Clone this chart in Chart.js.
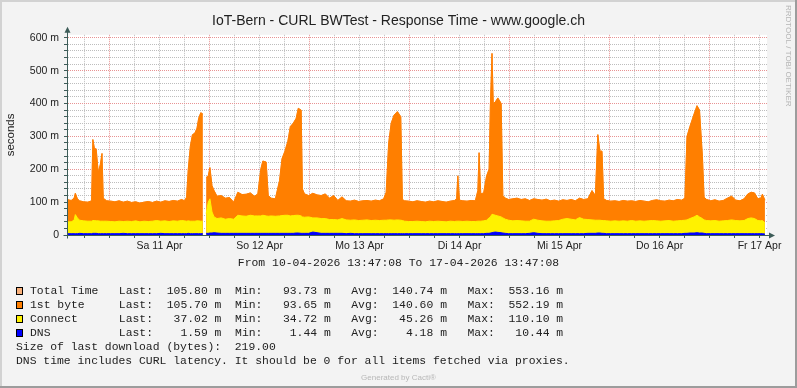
<!DOCTYPE html>
<html>
<head>
<meta charset="utf-8">
<script src="https://cdn.jsdelivr.net/npm/chart.js@4.4.1/dist/chart.umd.min.js"></script>
<style>
  html, body { margin: 0; padding: 0; background: #f3f3f3; }
  canvas { display: block; }
</style>
</head>
<body>
<canvas id="chart" width="797" height="388"></canvas>
<script>
/* global Chart */

const TITLE = 'IoT-Bern - CURL BWTest - Response Time - www.google.ch';
const Y_TITLE = 'seconds';
const PERIOD = 'From 10-04-2026 13:47:08 To 17-04-2026 13:47:08';
const dayLabels = ['Sa 11 Apr', 'So 12 Apr', 'Mo 13 Apr', 'Di 14 Apr', 'Mi 15 Apr', 'Do 16 Apr', 'Fr 17 Apr'];

// sample times, hours after 10-04-2026 13:47:08
const hours = [
  0, 1, 1.7, 2, 2.5, 3, 4, 5, 5.9, 6.2,
  6.6, 7, 7.5, 8, 8.4, 8.7, 9.5, 10.5, 11.5, 12.5,
  13.5, 14.5, 15.5, 16.5, 17.5, 18.5, 19.5, 20.5, 21.5, 22.5,
  23.5, 24.5, 25.5, 26.5, 27.5, 28.2, 28.7, 29.1, 29.6, 30.1,
  30.7, 31.2, 31.6, 32.1, 32.6, 33, 33.4, 33.9, 34.3, 34.8,
  35.3, 36, 37, 38, 39, 40, 41, 42, 43, 44,
  45, 45.8, 46.5, 47, 47.8, 48.3, 49, 50, 51, 51.6,
  52.3, 53, 53.6, 54.3, 55, 55.5, 56.2, 56.5, 57, 58,
  59, 60, 61, 62, 63, 64, 65, 66, 67, 68,
  69, 70, 71, 72, 73, 74, 75, 76, 76.6, 77.2,
  77.8, 78.5, 79.3, 80.1, 80.5, 81, 82, 83, 84, 85,
  86, 87, 88, 89, 90, 91, 92, 93, 93.5, 93.8,
  94.2, 95, 96, 97, 98, 98.6, 98.9, 99.3, 100, 100.7,
  101.3, 101.6, 102, 102.3, 102.8, 103.4, 104.2, 104.6, 105.2, 106,
  107, 108, 109, 110, 111, 112, 113, 114, 115, 116,
  117, 118, 119, 120, 121, 122, 123, 124, 125, 126,
  126.8, 127.4, 127.9, 128.4, 128.8, 129.5, 130.5, 131.5, 132.5, 133.5,
  134.5, 135.5, 136.5, 137.5, 138.5, 139.5, 140.5, 141.5, 142.5, 143.5,
  144.5, 145.5, 146.5, 147.5, 148.3, 148.8, 149.5, 150.5, 151.2, 151.8,
  152.5, 152.9, 153.5, 154.5, 155.5, 156.5, 157.5, 158.5, 159.5, 160.5,
  161.5, 162.5, 163.4, 164.2, 165, 165.8, 166.5, 166.9, 167.5
];

// milliseconds
const totalTime = [
  108, 105, 112, 127, 110, 104, 101, 100, 104, 291,
  262, 262, 190, 215, 248, 112, 104, 103, 101, 104,
  100, 103, 99, 101, 97, 100, 102, 99, 103, 100,
  104, 102, 105, 103, 108, 104, 115, 200, 270, 305,
  310, 325, 355, 372, 368, null, 175, 180, 205, 150,
  135, 118, 120, 112, 114, 100, 130, 123, 124, 128,
  118, 125, 200, 225, 222, 120, 112, 110, 165, 232,
  255, 285, 330, 340, 355, 386, 380, 140, 125, 120,
  127, 122, 120, 125, 112, 120, 105, 116, 104, 103,
  106, 102, 104, 105, 103, 106, 104, 110, 130, 280,
  340, 365, 376, 360, 108, 104, 103, 101, 104, 102,
  100, 103, 101, 104, 102, 100, 103, 105, 110, 180,
  106, 104, 103, 105, 104, 135, 251, 125, 128, 180,
  200, 390, 553, 400, 405, 417, 400, 120, 112, 108,
  110, 112, 108, 110, 105, 110, 108, 106, 109, 104,
  106, 103, 107, 105, 108, 104, 112, 108, 110, 135,
  120, 306, 255, 255, 110, 105, 103, 104, 102, 105,
  103, 104, 102, 105, 103, 101, 105, 107, 104, 103,
  106, 104, 108, 106, 112, 300, 330, 368, 394, 380,
  240, 115, 108, 104, 107, 103, 105, 112, 118, 106,
  104, 110, 125, 130, 128, 110, 112, 124, 106
];

const firstByte = [
  108, 105, 112, 127, 110, 104, 101, 100, 104, 290,
  262, 262, 190, 215, 248, 112, 104, 103, 101, 104,
  100, 103, 99, 101, 97, 100, 102, 99, 103, 100,
  104, 102, 105, 103, 108, 104, 115, 200, 270, 305,
  310, 325, 355, 372, 368, null, 175, 180, 205, 150,
  135, 118, 120, 112, 114, 100, 130, 123, 124, 128,
  118, 125, 200, 225, 222, 120, 112, 110, 165, 232,
  255, 285, 330, 340, 355, 385, 380, 140, 125, 120,
  127, 122, 120, 125, 112, 120, 105, 116, 104, 103,
  106, 102, 104, 105, 103, 106, 104, 110, 130, 280,
  340, 365, 375, 360, 108, 104, 103, 101, 104, 102,
  100, 103, 101, 104, 102, 100, 103, 105, 110, 180,
  106, 104, 103, 105, 104, 135, 250, 125, 128, 180,
  200, 390, 552, 400, 405, 417, 400, 120, 112, 108,
  110, 112, 108, 110, 105, 110, 108, 106, 109, 104,
  106, 103, 107, 105, 108, 104, 112, 108, 110, 135,
  120, 305, 255, 255, 110, 105, 103, 104, 102, 105,
  103, 104, 102, 105, 103, 101, 105, 107, 104, 103,
  106, 104, 108, 106, 112, 300, 330, 368, 393, 380,
  240, 115, 108, 104, 107, 103, 105, 112, 118, 106,
  104, 110, 125, 130, 128, 110, 112, 124, 106
];

const connectTime = [
  40, 40, 45, 62, 52, 45, 43, 42, 42, 44,
  44, 43, 43, 42, 42, 42, 42, 41, 40, 42,
  41, 42, 41, 43, 40, 42, 41, 42, 44, 42,
  43, 41, 43, 42, 44, 43, 42, 43, 42, 42,
  42, 43, 43, 42, 42, null, 65, 100, 110, 70,
  55, 50, 52, 48, 50, 48, 60, 58, 57, 60,
  58, 58, 58, 60, 58, 57, 58, 57, 58, 59,
  60, 60, 58, 59, 60, 60, 58, 55, 54, 55,
  52, 52, 50, 50, 47, 47, 46, 50, 46, 45,
  46, 44, 45, 46, 44, 45, 44, 45, 45, 46,
  46, 45, 46, 45, 44, 42, 41, 41, 42, 41,
  40, 42, 41, 42, 41, 40, 42, 41, 42, 42,
  42, 41, 42, 41, 41, 42, 42, 42, 43, 45,
  52, 55, 63, 62, 60, 58, 55, 52, 48, 45,
  43, 44, 43, 42, 42, 48, 45, 43, 42, 42,
  43, 44, 48, 50, 48, 46, 53, 48, 47, 46,
  45, 45, 45, 44, 44, 43, 42, 43, 42, 43,
  42, 44, 42, 43, 42, 43, 44, 43, 42, 43,
  44, 42, 43, 44, 45, 46, 50, 55, 60, 55,
  50, 46, 44, 43, 44, 42, 43, 44, 46, 44,
  43, 44, 50, 52, 50, 44, 43, 44, 37
];

const dnsTime = [
  4, 4, 4, 4, 4, 5, 4, 4, 4, 5,
  5, 5, 4, 4, 4, 4, 4, 4, 4, 4,
  5, 4, 4, 4, 4, 4, 4, 4, 4, 5,
  4, 4, 4, 4, 4, 4, 4, 5, 4, 4,
  4, 4, 4, 4, 4, null, 5, 5, 6, 6,
  7, 6, 5, 5, 5, 5, 5, 5, 5, 5,
  5, 5, 5, 5, 5, 5, 5, 5, 5, 5,
  5, 5, 5, 5, 6, 6, 5, 5, 5, 5,
  9, 7, 5, 5, 5, 5, 5, 5, 4, 5,
  4, 4, 4, 4, 4, 4, 4, 4, 4, 4,
  4, 4, 4, 4, 4, 4, 4, 4, 4, 4,
  4, 4, 4, 4, 4, 4, 4, 4, 4, 4,
  4, 4, 4, 4, 4, 4, 4, 4, 4, 5,
  5, 6, 7, 8, 9, 8, 7, 6, 5, 4,
  4, 4, 4, 4, 5, 7, 5, 4, 4, 4,
  4, 4, 4, 4, 4, 4, 4, 4, 5, 5,
  5, 6, 6, 5, 5, 4, 4, 4, 4, 4,
  4, 4, 4, 4, 4, 4, 4, 4, 4, 4,
  4, 4, 4, 4, 5, 5, 6, 6, 7, 6,
  6, 5, 4, 4, 4, 4, 4, 4, 4, 4,
  4, 4, 4, 4, 4, 4, 4, 4, 3
];

// legend table
const seriesNames = ['Total Time', '1st byte', 'Connect', 'DNS'];
const lastVals = ['105.80', '105.70', '37.02', '1.59'];
const minVals = ['93.73', '93.65', '34.72', '1.44'];
const avgVals = ['140.74', '140.60', '45.26', '4.18'];
const maxVals = ['553.16', '552.19', '110.10', '10.44'];
const SIZE_NOTE = 'Size of last download (bytes):  219.00';
const DNS_NOTE = 'DNS time includes CURL latency. It should be 0 for all items fetched via proxies.';
const WATERMARK = 'RRDTOOL / TOBI OETIKER';
const FOOTER = 'Generated by Cacti\u00AE';

const COLORS = ['#F9B07A', '#FF7F00', '#FFF200', '#0000FF'];
const TEXT = '#222222';
const AXIS = '#3d5c58';
const GRID = '#bdbdbd';
const MGRID = '#e89393';
const SANS = 'Liberation Sans, Arial, sans-serif';
const MONO = '"Liberation Mono", "Courier New", monospace';

// 13:47:08 -> next midnight
const TO_MIDNIGHT = 10 + 12 / 60 + 52 / 3600;
const gridHours = [];
for (let h = TO_MIDNIGHT - 6; h <= 168; h += 6) gridHours.push(h);
const yGrid = [];
for (let v = 0; v <= 600; v += 20) yGrid.push(v);

function dayPos(v) { return (v - TO_MIDNIGHT) / 24; }
function isMidnight(v) { const k = dayPos(v); return Math.abs(k - Math.round(k)) < 1e-6; }
function dayLabelFor(v) {
  const k = dayPos(v);
  const f = Math.floor(k);
  return Math.abs(k - f - 0.5) < 1e-6 ? (dayLabels[f] || '') : '';
}

function toPoints(arr) { return arr.map((v, i) => ({ x: hours[i], y: v })); }

function area(label, arr, color) {
  return {
    label,
    data: toPoints(arr),
    yAxisID: 'y',
    fill: 'origin',
    backgroundColor: color,
    borderColor: color,
    borderWidth: 1,
    pointRadius: 0,
    tension: 0,
    spanGaps: false
  };
}

function legendLine(i) {
  return seriesNames[i].padEnd(13) +
    'Last:' + lastVals[i].padStart(8) + ' m  ' +
    'Min:' + minVals[i].padStart(8) + ' m   ' +
    'Avg:' + avgVals[i].padStart(8) + ' m   ' +
    'Max:' + maxVals[i].padStart(8) + ' m';
}

const backgroundPlugin = {
  id: 'rrdBackground',
  beforeDraw(chart) {
    const ctx = chart.ctx;
    const a = chart.chartArea;
    ctx.save();
    ctx.fillStyle = '#f3f3f3';
    ctx.fillRect(0, 0, chart.width, chart.height);
    ctx.fillStyle = '#ffffff';
    ctx.fillRect(a.left, a.top, a.right - a.left, a.bottom - a.top);
    ctx.restore();
  }
};

const decorPlugin = {
  id: 'rrdDecor',
  afterDraw(chart) {
    const ctx = chart.ctx;
    const a = chart.chartArea;
    const W = chart.width, H = chart.height;
    ctx.save();

    // axis extensions and arrows
    const ax = Math.round(a.left) + 0.5;
    const ay = Math.round(a.bottom) + 0.5;
    ctx.strokeStyle = AXIS;
    ctx.fillStyle = AXIS;
    ctx.lineWidth = 1;
    ctx.beginPath();
    ctx.moveTo(ax, ay + 3); ctx.lineTo(ax, a.top - 4);
    ctx.moveTo(ax - 4, ay); ctx.lineTo(a.right + 3, ay);
    ctx.stroke();
    ctx.beginPath();
    ctx.moveTo(ax, a.top - 8); ctx.lineTo(ax - 3, a.top - 2); ctx.lineTo(ax + 3, a.top - 2);
    ctx.closePath(); ctx.fill();
    ctx.beginPath();
    ctx.moveTo(a.right + 8, ay); ctx.lineTo(a.right + 2, ay - 3); ctx.lineTo(a.right + 2, ay + 3);
    ctx.closePath(); ctx.fill();

    // watermark
    ctx.save();
    ctx.translate(788.5, 5);
    ctx.rotate(Math.PI / 2);
    ctx.font = '8px ' + SANS;
    ctx.fillStyle = '#b5b5b5';
    ctx.textAlign = 'left';
    ctx.textBaseline = 'middle';
    ctx.fillText(WATERMARK, 0, 0);
    ctx.restore();

    // legend
    ctx.font = '11.4px ' + MONO;
    ctx.fillStyle = TEXT;
    ctx.textBaseline = 'middle';
    ctx.textAlign = 'center';
    ctx.fillText(PERIOD, W / 2, 263);
    ctx.textAlign = 'left';
    const rows = [291, 305, 319, 333];
    rows.forEach((cy, i) => {
      ctx.fillStyle = COLORS[i];
      ctx.fillRect(16, cy - 4, 7, 8);
      ctx.strokeStyle = '#000000';
      ctx.strokeRect(16.5, cy - 3.5, 6, 7);
      ctx.fillStyle = TEXT;
      ctx.fillText(legendLine(i), 30, cy);
    });
    ctx.fillText(SIZE_NOTE, 16, 347);
    ctx.fillText(DNS_NOTE, 16, 361);

    // footer
    ctx.font = '8px ' + SANS;
    ctx.fillStyle = '#b8b8b8';
    ctx.textAlign = 'center';
    ctx.fillText(FOOTER, W / 2, 377.5);

    // frame
    ctx.lineWidth = 2;
    ctx.strokeStyle = '#d2d2d2';
    ctx.beginPath();
    ctx.moveTo(1, H); ctx.lineTo(1, 1); ctx.lineTo(W, 1);
    ctx.stroke();
    ctx.strokeStyle = '#9c9c9c';
    ctx.beginPath();
    ctx.moveTo(W - 1, 0); ctx.lineTo(W - 1, H - 1); ctx.lineTo(0, H - 1);
    ctx.stroke();
    ctx.restore();
  }
};

new Chart(document.getElementById('chart').getContext('2d'), {
  type: 'line',
  data: {
    datasets: [
      area('DNS', dnsTime, COLORS[3]),
      area('Connect', connectTime, COLORS[2]),
      area('1st byte', firstByte, COLORS[1]),
      area('Total Time', totalTime, COLORS[0])
    ]
  },
  options: {
    responsive: false,
    animation: false,
    devicePixelRatio: 1,
    layout: { padding: 0 },
    scales: {
      x: {
        type: 'linear',
        min: 0,
        max: 168,
        afterBuildTicks: (s) => { s.ticks = gridHours.map(v => ({ value: v })); },
        afterFit: (s) => { s.height = 153; },
        grid: {
          color: (c) => isMidnight(c.tick.value) ? MGRID : GRID,
          tickLength: 3,
          tickColor: AXIS
        },
        border: { color: AXIS, dash: [1, 1] },
        ticks: {
          autoSkip: false,
          maxRotation: 0,
          padding: 2,
          color: TEXT,
          font: { family: SANS, size: 10.5 },
          callback: (v) => dayLabelFor(v)
        }
      },
      y: {
        type: 'linear',
        min: 0,
        max: 609,
        afterBuildTicks: (s) => { s.ticks = yGrid.map(v => ({ value: v })); },
        afterFit: (s) => { s.width = 67; },
        grid: {
          color: (c) => c.tick.value === 0 ? 'rgba(0,0,0,0)' : (c.tick.value % 100 === 0 ? MGRID : GRID),
          tickLength: 3,
          tickColor: AXIS
        },
        border: { color: AXIS, dash: [1, 1] },
        ticks: {
          autoSkip: false,
          padding: 5,
          color: TEXT,
          font: { family: SANS, size: 10.5 },
          callback: (v) => v % 100 === 0 ? (v === 0 ? '0' : v + ' m') : ''
        },
        title: {
          display: true,
          text: Y_TITLE,
          color: TEXT,
          font: { family: SANS, size: 11.5 },
          padding: { top: 4, bottom: 0 }
        }
      },
      yr: {
        type: 'linear',
        position: 'right',
        min: 0,
        max: 1,
        afterFit: (s) => { s.width = 30; },
        grid: { display: false },
        ticks: { display: false },
        border: { display: false }
      }
    },
    plugins: {
      legend: { display: false },
      tooltip: { enabled: false },
      title: {
        display: true,
        text: TITLE,
        color: TEXT,
        font: { family: SANS, size: 14, weight: 'normal' },
        padding: { top: 13, bottom: 5 }
      }
    }
  },
  plugins: [backgroundPlugin, decorPlugin]
});
</script>
</body>
</html>
